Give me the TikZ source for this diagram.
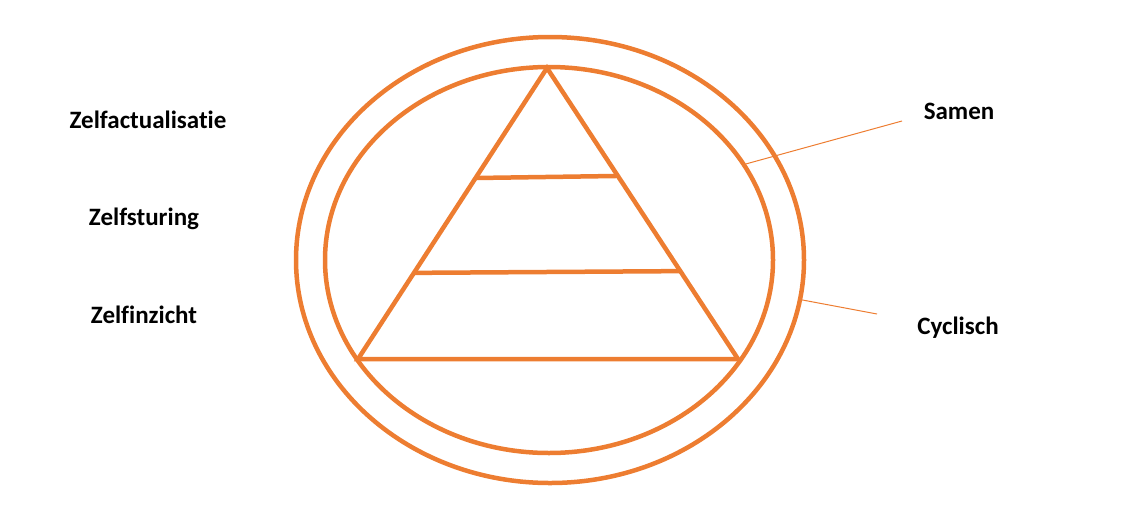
\documentclass[tikz,border=0pt]{standalone}
\usepackage{fontspec}
\setmainfont{Carlito}[Ligatures=NoCommon]
\usetikzlibrary{shapes.geometric, calc}

\definecolor{ringorange}{HTML}{ED7D31}

\begin{document}
\begin{tikzpicture}[
  x=1pt, y=-1pt,
  ring/.style  = {draw=ringorange, line width=4.5pt, ellipse, inner sep=0pt},
  level/.style = {draw=ringorange, line width=4.5pt, line join=miter},
  pointer/.style = {draw=ringorange, line width=1pt},
  label/.style = {font=\fontsize{25}{29}\selectfont\bfseries, anchor=base, inner sep=0pt}
]
  \useasboundingbox (0,0) rectangle (1131,517);

  % outer and inner ring
  \node[ring, minimum width=508pt, minimum height=446pt] (outer) at (550,260) {};
  \node[ring, minimum width=448pt, minimum height=386pt] (inner) at (549,260) {};

  % pyramid corners
  \coordinate (apex)  at (547,68);
  \coordinate (left)  at (358,359);
  \coordinate (right) at (738,359);
  \draw[level] (apex) -- (left) -- (right) -- cycle;

  % pyramid levels
  \draw[level] ($(apex)!0.378!(left)$) -- ($(apex)!0.371!(right)$);
  \draw[level] ($(apex)!0.704!(left)$) -- ($(apex)!0.698!(right)$);

  % labels on the left
  \node[label] (actual)  at (148,128) {Zelfactualisatie};
  \node[label] (sturing) at (144,225) {Zelfsturing};
  \node[label] (inzicht) at (144,323) {Zelfinzicht};

  % labels on the right
  \node[label] (samen)    at (959,119) {Samen};
  \node[label] (cyclisch) at (958,334) {Cyclisch};

  % pointer lines
  \coordinate (samen_end)    at (902,121);
  \coordinate (cyclisch_end) at (877,314);
  \draw[pointer] (inner.26.2) -- (samen_end);
  \draw[pointer] (outer.-9.3) -- (cyclisch_end);
\end{tikzpicture}
\end{document}
